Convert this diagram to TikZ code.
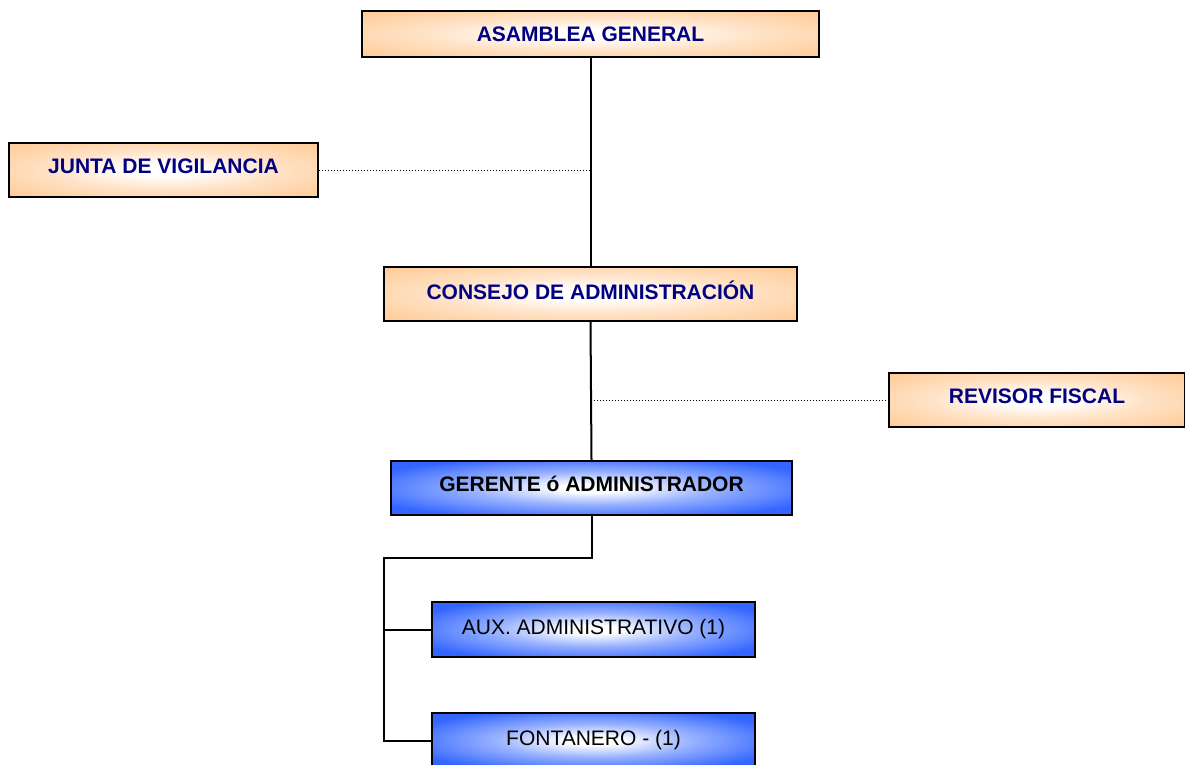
\documentclass[tikz,border=0pt]{standalone}
\usepackage{fontspec}
\setmainfont{Liberation Sans}
\definecolor{peach}{RGB}{255,204,153}
\definecolor{royal}{RGB}{51,102,255}
\definecolor{navytext}{RGB}{0,0,128}
\pgfdeclareradialshading{peachglow}{\pgfpoint{0bp}{0bp}}{color(0bp)=(white); color(5bp)=(white); color(18bp)=(peach!55!white); color(34bp)=(peach); color(70bp)=(peach)}
\pgfdeclareradialshading{royalglow}{\pgfpoint{0bp}{0bp}}{color(0bp)=(white); color(4bp)=(white); color(15bp)=(royal!50!white); color(30bp)=(royal); color(70bp)=(royal)}
\tikzset{
  orgbox/.style={draw=black, line width=2pt, inner sep=0pt, align=center,
    font=\fontsize{21}{25}\selectfont},
  board/.style={orgbox, shading=peachglow, text=navytext, text depth=8pt,
    font=\fontsize{21}{25}\selectfont\bfseries},
  staff/.style={orgbox, shading=royalglow, text=black, text depth=8pt,
    font=\fontsize{21}{25}\selectfont\bfseries},
  crew/.style={orgbox, shading=royalglow, text=black, text depth=5pt},
  solidlink/.style={line width=2pt},
  dotlink/.style={line width=1pt, dotted}
}
\begin{document}
\begin{tikzpicture}[x=1pt, y=-1pt]
    \useasboundingbox (0,0) rectangle (1185,765);
    \begin{scope}
    \clip (0,0) rectangle (1185,765);

    % Governing bodies
    \node[board, minimum width=457pt, minimum height=46pt, text depth=0pt] (asamblea) at (590.5,34) {ASAMBLEA GENERAL};
    \node[board, minimum width=309pt, minimum height=54pt] (junta) at (163.5,170) {JUNTA DE VIGILANCIA};
    \node[board, minimum width=413pt, minimum height=54pt] (consejo) at (590.5,294) {CONSEJO DE ADMINISTRACIÓN};
    \node[board, minimum width=296pt, minimum height=54pt] (revisor) at (1037,400) {REVISOR FISCAL};

    % Staff
    \node[staff, minimum width=401pt, minimum height=54pt] (gerente) at (591.5,488) {GERENTE ó ADMINISTRADOR};
    \node[crew, minimum width=323pt, minimum height=55pt] (aux) at (593.5,629.5) {AUX. ADMINISTRATIVO (1)};
    \node[crew, minimum width=323pt, minimum height=55pt] (fontanero) at (593.5,740.5) {FONTANERO - (1)};

    % Lines of authority
    \coordinate (tap1) at (asamblea.south |- junta.east);
    \coordinate (tap2) at (consejo.south |- revisor.west);
    \coordinate (bend) at (gerente.south |- 0,558);
    \coordinate (rail) at (384,558);
    \draw[solidlink] (asamblea.south) -- (consejo.north);
    \draw[dotlink] (junta.east) -- (tap1);
    \draw[solidlink] (consejo.south) -- (gerente.north);
    \draw[dotlink] (tap2) -- (revisor.west);
    \draw[solidlink] (gerente.south) -- (bend) -- (rail) |- (fontanero.west);
    \draw[solidlink] (rail |- aux.west) -- (aux.west);
    \end{scope}
\end{tikzpicture}
\end{document}
